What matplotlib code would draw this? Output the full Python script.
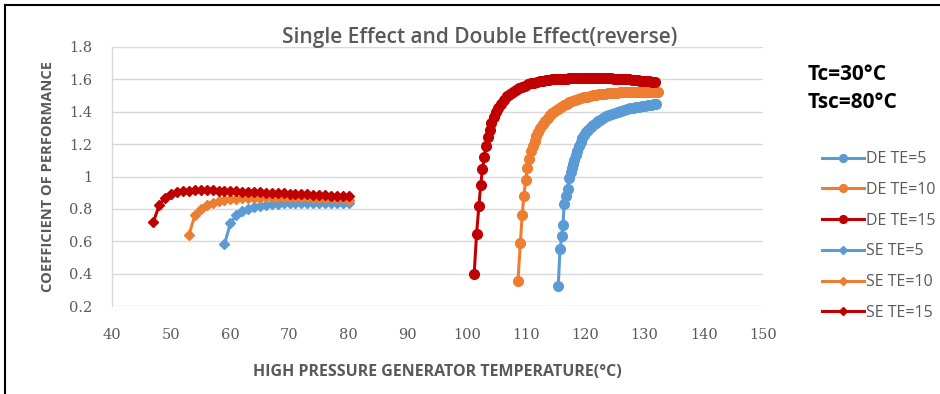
import matplotlib
matplotlib.use("Agg")
import matplotlib.pyplot as plt
from matplotlib.lines import Line2D

# ---------------- data ----------------
se5_t = [59, 60, 61, 62, 63, 64, 65, 66, 67, 68, 69, 70, 71, 72, 73, 74, 75, 76, 77, 78, 79, 80]
se5_cop = [0.58, 0.71, 0.76, 0.785, 0.80, 0.812, 0.82, 0.825, 0.83, 0.832, 0.834, 0.836, 0.837, 0.838,
           0.838, 0.839, 0.839, 0.839, 0.838, 0.838, 0.837, 0.836]

se10_t = [53, 54, 55, 56, 57, 58, 59, 60, 61, 62, 63, 64, 65, 66, 67, 68, 69, 70, 71, 72, 73, 74, 75,
          76, 77, 78, 79, 80]
se10_cop = [0.64, 0.76, 0.80, 0.822, 0.837, 0.846, 0.853, 0.858, 0.862, 0.865, 0.867, 0.869, 0.87, 0.871,
            0.872, 0.872, 0.872, 0.872, 0.872, 0.871, 0.871, 0.87, 0.869, 0.868, 0.867, 0.866, 0.865, 0.852]

se15_t = [47, 48, 49, 50, 51, 52, 53, 54, 55, 56, 57, 58, 59, 60, 61, 62, 63, 64, 65, 66, 67, 68, 69,
          70, 71, 72, 73, 74, 75, 76, 77, 78, 79, 80]
se15_cop = [0.72, 0.825, 0.87, 0.89, 0.902, 0.908, 0.912, 0.914, 0.915, 0.915, 0.914, 0.913, 0.912,
            0.911, 0.909, 0.907, 0.906, 0.904, 0.902, 0.901, 0.899, 0.897, 0.895, 0.894, 0.892, 0.891,
            0.889, 0.887, 0.886, 0.884, 0.882, 0.881, 0.879, 0.878]

de5_t = [115.4, 115.7, 116.0, 116.2, 116.4, 116.7, 117.0, 117.2, 117.5, 117.7, 117.9, 118.1, 118.4,
         118.6, 118.9, 119.2, 119.5, 119.8, 120.1, 120.5, 120.9, 121.3, 121.7, 122.1, 122.5, 123.0,
         123.5, 124.0, 124.5, 125.0, 125.5, 126.0, 126.5, 127.0, 127.5, 128.0, 128.5, 129.0, 129.5,
         130.0, 130.5, 131.0, 131.5, 132.0]
de5_cop = [0.325, 0.55, 0.63, 0.70, 0.83, 0.88, 0.925, 0.99, 1.03, 1.05, 1.075, 1.10, 1.13, 1.16,
           1.19, 1.215, 1.235, 1.255, 1.272, 1.29, 1.305, 1.318, 1.33, 1.341, 1.351, 1.362, 1.372,
           1.38, 1.388, 1.395, 1.401, 1.407, 1.412, 1.417, 1.421, 1.425, 1.429, 1.432, 1.435, 1.438,
           1.441, 1.443, 1.445, 1.448]

de10_t = [108.6, 109.0, 109.3, 109.6, 109.9, 110.2, 110.5, 110.8, 111.1, 111.4, 111.7, 112.0, 112.4,
          112.8, 113.2, 113.6, 114.0, 114.4, 114.8, 115.3, 115.8, 116.3, 116.8, 117.3, 117.8, 118.3,
          118.8, 119.3, 119.8, 120.3, 120.8, 121.3, 121.8, 122.3, 122.8, 123.3, 123.8, 124.3, 124.8,
          125.3, 125.8, 126.3, 126.8, 127.3, 127.8, 128.3, 128.8, 129.3, 129.8, 130.3, 130.8, 131.3,
          131.8, 132.2]
de10_cop = [0.356, 0.59, 0.76, 0.88, 0.98, 1.05, 1.11, 1.155, 1.19, 1.22, 1.25, 1.275, 1.30, 1.325,
            1.345, 1.362, 1.378, 1.392, 1.405, 1.418, 1.43, 1.44, 1.45, 1.458, 1.466, 1.472, 1.478,
            1.484, 1.489, 1.494, 1.498, 1.502, 1.505, 1.508, 1.51, 1.512, 1.514, 1.516, 1.517, 1.518,
            1.519, 1.52, 1.521, 1.521, 1.522, 1.522, 1.522, 1.522, 1.522, 1.521, 1.521, 1.521, 1.52,
            1.52]

de15_t = [101.2, 101.6, 102.0, 102.3, 102.6, 102.9, 103.2, 103.5, 103.8, 104.1, 104.5, 104.9, 105.3,
          105.8, 106.3, 106.8, 107.3, 107.8, 108.3, 108.8, 109.3, 109.8, 110.3, 110.8, 111.3, 111.8,
          112.3, 112.8, 113.3, 113.8, 114.3, 114.8, 115.3, 115.8, 116.3, 116.8, 117.3, 117.8, 118.3,
          118.8, 119.3, 119.8, 120.3, 120.8, 121.3, 121.8, 122.3, 122.8, 123.3, 123.8, 124.3, 124.8,
          125.3, 125.8, 126.3, 126.8, 127.3, 127.8, 128.3, 128.8, 129.3, 129.8, 130.3, 130.8, 131.3,
          131.8]
de15_cop = [0.40, 0.645, 0.82, 0.95, 1.045, 1.12, 1.19, 1.245, 1.29, 1.33, 1.365, 1.40, 1.425, 1.45,
            1.475, 1.495, 1.51, 1.525, 1.535, 1.545, 1.555, 1.562, 1.57, 1.575, 1.58, 1.585, 1.588,
            1.592, 1.595, 1.598, 1.60, 1.601, 1.602, 1.603, 1.604, 1.605, 1.606, 1.607, 1.608, 1.609,
            1.609, 1.61, 1.61, 1.61, 1.61, 1.609, 1.609, 1.608, 1.608, 1.607, 1.606, 1.605, 1.604,
            1.603, 1.602, 1.601, 1.60, 1.598, 1.597, 1.595, 1.593, 1.591, 1.589, 1.587, 1.585, 1.583]

x_ticks = [40, 50, 60, 70, 80, 90, 100, 110, 120, 130, 140, 150]
y_ticks = [0.2, 0.4, 0.6, 0.8, 1.0, 1.2, 1.4, 1.6, 1.8]
y_ticklabels = ["0.2", "0.4", "0.6", "0.8", "1", "1.2", "1.4", "1.6", "1.8"]

# ---------------- style ----------------
BLUE = "#5B9BD5"
ORANGE = "#ED7D31"
RED = "#C00000"
GRAY = "#595959"
GRID = "#D9D9D9"

W, H = 940, 394
fig = plt.figure(figsize=(W / 100, H / 100), dpi=100)
ax = fig.add_axes([112 / W, 1 - 306 / H, (763 - 112) / W, (306 - 47) / H])

de_kw = dict(marker="o", markersize=7, linewidth=2.2)
se_kw = dict(marker="D", markersize=4.8, linewidth=2.2)

ax.plot(de5_t, de5_cop, color=BLUE, label="DE TE=5", **de_kw)
ax.plot(de10_t, de10_cop, color=ORANGE, label="DE TE=10", **de_kw)
ax.plot(de15_t, de15_cop, color=RED, label="DE TE=15", **de_kw)
ax.plot(se5_t, se5_cop, color=BLUE, label="SE TE=5", **se_kw)
ax.plot(se10_t, se10_cop, color=ORANGE, label="SE TE=10", **se_kw)
ax.plot(se15_t, se15_cop, color=RED, label="SE TE=15", **se_kw)

ax.set_xlim(40, 150)
ax.set_ylim(0.2, 1.8)
ax.set_xticks(x_ticks)
ax.set_xticklabels([str(v) for v in x_ticks])
ax.set_yticks(y_ticks)
ax.set_yticklabels(y_ticklabels)

for s in ["top", "right", "bottom"]:
    ax.spines[s].set_visible(False)
ax.spines["left"].set_color(GRID)
ax.spines["left"].set_linewidth(1.0)
ax.yaxis.grid(True, color=GRID, linewidth=1.0)
ax.set_axisbelow(True)
ax.tick_params(axis="both", length=0, colors=GRAY, labelsize=10.5)
ax.tick_params(axis="x", pad=16)
ax.tick_params(axis="y", pad=14)
for lab in ax.get_xticklabels() + ax.get_yticklabels():
    lab.set_family("DejaVu Serif")

fig.text(480 / W, 1 - 38 / H, "Single Effect and Double Effect(reverse)", color=GRAY,
         fontsize=15, family="Open Sans", fontweight="semibold", ha="center", va="center")
ax.set_ylabel("COEFFICIENT OF PERFORMANCE", color=GRAY, fontsize=10.5, family="Open Sans",
              fontweight="bold", labelpad=10)
fig.text(437 / W, 1 - 372 / H, "HIGH PRESSURE GENERATOR TEMPERATURE(°C)", color=GRAY,
         fontsize=11.5, family="Open Sans", fontweight="bold", ha="center", va="center")

fig.text(808 / W, 1 - 75 / H, "Tc=30°C", fontsize=15, fontweight="bold",
         family="Open Sans", va="center", ha="left", color="black")
fig.text(808 / W, 1 - 103 / H, "Tsc=80°C", fontsize=15, fontweight="bold",
         family="Open Sans", va="center", ha="left", color="black")

handles, labels = ax.get_legend_handles_labels()
leg = fig.legend(handles, labels, loc="upper left", bbox_to_anchor=(808 / W, 1 - 137 / H),
                 frameon=False, fontsize=11.5, labelspacing=0.92, handlelength=2.6,
                 handletextpad=0.15, markerscale=0.8)
for t in leg.get_texts():
    t.set_color(GRAY)
    t.set_family("Open Sans")

# outer frame (top and left edges visible)
fig.add_artist(Line2D([5 / W, 1], [1 - 5 / H, 1 - 5 / H], color="black", linewidth=1.5,
                      transform=fig.transFigure))
fig.add_artist(Line2D([5 / W, 5 / W], [0, 1 - 5 / H], color="black", linewidth=1.5,
                      transform=fig.transFigure))

fig.savefig("out.png", dpi=100, facecolor="white")
